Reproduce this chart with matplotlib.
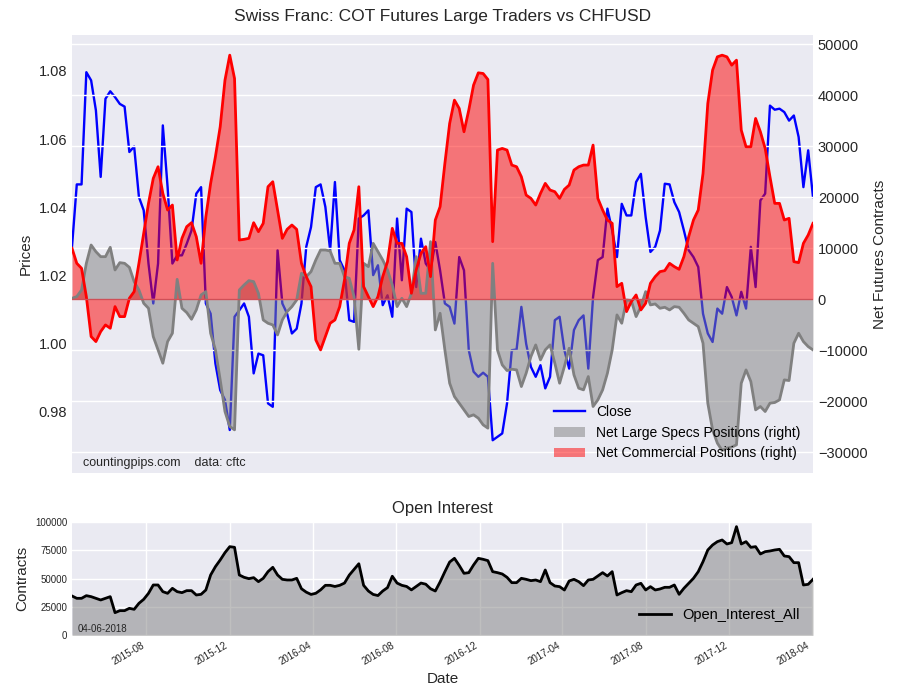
import matplotlib
matplotlib.use("Agg")
import matplotlib.pyplot as plt
import matplotlib.dates as mdates
from matplotlib.ticker import FormatStrFormatter
import pandas as pd

plt.rcParams['font.family'] = ['Liberation Sans', 'DejaVu Sans']

# weekly COT report dates (Tuesdays)
dates = pd.date_range('2015-04-14', periods=156, freq='7D')

close = [
    1.0284, 1.0467, 1.0467, 1.0796, 1.0772, 1.0684, 1.0489, 1.0718, 1.0740, 1.0723,
    1.0703, 1.0695, 1.0562, 1.0578, 1.0430, 1.0391, 1.0235, 1.0118, 1.0235, 1.0640,
    1.0459, 1.0235, 1.0259, 1.0259, 1.0293, 1.0332, 1.0440, 1.0459, 1.0118, 1.0088,
    0.9942, 0.9864, 0.9835, 0.9747, 1.0079, 1.0098, 1.0118, 1.0079, 0.9913, 0.9971,
    0.9966, 0.9825, 0.9815, 1.0274, 1.0118, 1.0088, 1.0030, 1.0044, 1.0118, 1.0284,
    1.0342, 1.0459, 1.0467, 1.0401, 1.0274, 1.0474, 1.0245, 1.0215, 1.0069, 1.0064,
    1.0367, 1.0376, 1.0391, 1.0201, 1.0230, 1.0113, 1.0142, 1.0079, 1.0367, 1.0186,
    1.0396, 1.0386, 1.0166, 1.0308, 1.0235, 1.0215, 1.0298, 1.0215, 1.0118, 1.0108,
    1.0059, 1.0254, 1.0215, 0.9981, 0.9918, 0.9903, 0.9915, 0.9903, 0.9717, 0.9727,
    0.9737, 0.9825, 0.9981, 0.9983, 1.0108, 1.0000, 0.9932, 0.9903, 0.9937, 0.9869,
    0.9903, 1.0069, 1.0079, 0.9981, 0.9927, 1.0040, 1.0069, 1.0083, 0.9927, 1.0137,
    1.0245, 1.0254, 1.0396, 1.0332, 1.0254, 1.0410, 1.0376, 1.0376, 1.0474, 1.0498,
    1.0371, 1.0269, 1.0284, 1.0332, 1.0469, 1.0467, 1.0415, 1.0386, 1.0332, 1.0274,
    1.0254, 1.0225, 1.0088, 1.0030, 1.0005, 1.0103, 1.0088, 1.0166, 1.0137, 1.0083,
    1.0152, 1.0103, 1.0284, 1.0166, 1.0420, 1.0440, 1.0698, 1.0686, 1.0689, 1.0679,
    1.0654, 1.0669, 1.0606, 1.0459, 1.0567, 1.0430,
]

net_specs = [
    196, 522, 1828, 7052, 10644, 9338, 8358, 8358, 10187, 5746,
    7183, 7052, 6269, 3461, 1828, -784, -1763, -7314, -9926, -12538,
    -8293, -6661, 3918, -1763, -2612, -3918, -2090, 849, 1502, -6661,
    -9926, -15803, -22006, -24945, -25598, 1828, 2808, 3657, 3461, 1175,
    -4049, -4702, -5028, -6987, -4049, -2416, -1437, -131, 5093, 4440,
    5420, 7705, 9664, 9664, 9469, 7052, 7052, 4440, 4114, 522,
    -9795, 7052, 6399, 10970, 9338, 7705, 5746, 2808, -1437, 196,
    -1437, 1175, 8358, 1175, 1175, 11297, -6008, -2743, -9926, -16456,
    -19068, -20374, -21680, -22986, -22659, -23312, -24618, -25271, 7052, -9926,
    -12864, -13974, -13713, -13844, -17109, -14497, -11232, -8946, -11885, -9926,
    -8946, -12538, -16456, -13191, -9599, -14823, -17435, -17762, -15150, -21027,
    -19721, -17762, -14497, -9926, -3069, -4702, -131, -261, -3396, -1437,
    1502, -1110, -914, -1763, -1567, -2090, -1437, -1567, -2743, -4049,
    -4702, -5355, -8620, -20374, -25598, -28210, -29646, -29189, -28993, -28536,
    -16456, -13844, -16129, -21680, -21027, -22006, -20374, -20243, -19721, -15803,
    -15933, -8620, -6661, -8293, -9273, -9926,
]

net_commercial = [
    10000, 7052, 6073, 522, -7314, -8293, -6334, -5028, -5681, -1437,
    -3396, -3396, 196, 1502, 7052, 12929, 18806, 23704, 25989, 20765,
    17500, 18480, 7705, 11950, 14235, 15019, 12276, 7052, 16194, 22724,
    27948, 33825, 42967, 47865, 43294, 11623, 11754, 11950, 15019, 13256,
    14888, 22071, 23051, 17500, 11950, 13713, 14562, 13713, 7052, 4440,
    2481, -7967, -9926, -7314, -4702, -4049, -1437, 3787, 10970, 13582,
    22071, 2481, 522, -1437, 522, 4440, 7379, 13909, 10970, 10970,
    8358, 1175, 5746, 9011, 10317, 4440, 15541, 18153, 26642, 34478,
    39049, 37417, 32846, 37090, 41988, 44404, 44273, 43098, 11297, 29254,
    29581, 29254, 26316, 25989, 24030, 20439, 19786, 18480, 20765, 22724,
    21418, 21092, 19786, 21549, 22398, 25336, 25989, 26316, 26316, 30234,
    19786, 17500, 15541, 14888, 2481, 3134, -2416, -457, 849, -2090,
    -784, 3134, 4440, 5420, 5616, 7052, 6399, 5877, 8358, 12276,
    15541, 17500, 24683, 38396, 44926, 47538, 47865, 47538, 45906, 46885,
    33172, 29907, 29907, 35458, 32846, 29581, 24030, 18806, 18806, 15541,
    15868, 7379, 7183, 10970, 12603, 14888,
]

open_interest = [
    34621, 32567, 32567, 34915, 34034, 32567, 31100, 32567, 34034, 19951,
    21712, 21712, 23765, 22885, 28166, 31687, 36968, 44303, 44303, 38435,
    36968, 41369, 38435, 37555, 39316, 39316, 35501, 36088, 39902, 53105,
    60440, 66308, 72763, 78044, 77458, 53105, 51052, 49878, 50758, 47237,
    50171, 56039, 59853, 53105, 49291, 48704, 48704, 50171, 41000, 38000,
    36000, 37000, 40000, 44000, 44000, 43000, 44000, 46000, 53000, 58000,
    63000, 44000, 39000, 36000, 35000, 39000, 42000, 52000, 46000, 44000,
    43000, 40000, 43000, 46000, 45000, 41000, 39000, 47000, 56000, 64500,
    67775, 61500, 54572, 55159, 61900, 67775, 66900, 65722, 56039, 55159,
    53986, 51052, 46357, 46357, 50171, 49291, 48118, 48704, 47237, 57506,
    46357, 43423, 42836, 39902, 47824, 49291, 47237, 43717, 48704, 49291,
    52225, 55159, 52225, 56039, 35501, 37555, 39316, 38435, 44303, 45770,
    39902, 42836, 39902, 40783, 42250, 42250, 44303, 36088, 41369, 45770,
    50171, 56039, 64841, 75110, 79511, 82445, 83912, 80392, 81565, 95648,
    80392, 82445, 77458, 78044, 71590, 73643, 74230, 75110, 75697, 69829,
    69242, 63961, 63961, 44303, 44890, 49291,
]

bg = '#EAEAF2'
txt = '#262626'

fig = plt.figure(figsize=(9, 7), dpi=100)
ax1 = fig.add_axes([0.08, 0.3243, 0.8233, 0.6257])
ax2 = ax1.twinx()
ax3 = fig.add_axes([0.08, 0.0924, 0.8233, 0.1623])

# --- top chart: price vs net positions
ax1.set_facecolor(bg)
ax1.plot(dates, close, color='blue', lw=1.7, label='Close')
ax1.set_ylim(0.9621, 1.0905)
ax1.yaxis.set_major_formatter(FormatStrFormatter('%.2f'))
ax1.set_ylabel('Prices', fontsize=11, color=txt)
ax1.grid(False)

ax2.patch.set_visible(False)
ax2.fill_between(dates, net_specs, 0, color='gray', alpha=0.5, lw=0,
                 label='Net Large Specs Positions (right)')
ax2.plot(dates, net_specs, color='gray', lw=2)
ax2.fill_between(dates, net_commercial, 0, color='red', alpha=0.5, lw=0,
                 label='Net Commercial Positions (right)')
ax2.plot(dates, net_commercial, color='red', lw=2)
ax2.axhline(0, color='#cf4f57', lw=1)
ax2.set_ylim(-34060, 51820)
ax2.set_yticks(range(-30000, 50001, 10000))
ax2.grid(True, axis='y', color='white', lw=1)
ax2.set_axisbelow(True)
ax2.set_ylabel('Net Futures Contracts', fontsize=11, color=txt)
ax2.set_title('Swiss Franc: COT Futures Large Traders vs CHFUSD',
              fontsize=12.5, color=txt, pad=10)

h1, l1 = ax1.get_legend_handles_labels()
h2, l2 = ax2.get_legend_handles_labels()
ax2.legend(h1 + h2, l1 + l2, loc='lower right', frameon=False, fontsize=10,
           borderaxespad=0.5, handlelength=2.2)
ax1.text(0.015, 0.015, 'countingpips.com    data: cftc', transform=ax1.transAxes,
         fontsize=9, color=txt)

for ax in (ax1, ax2):
    for s in ax.spines.values():
        s.set_visible(False)
    ax.tick_params(length=0, labelsize=10.5, colors=txt)
ax1.tick_params(axis='x', labelbottom=False)
ax1.set_xlim(dates[0], dates[-1])

# --- bottom chart: open interest
ax3.set_facecolor(bg)
ax3.fill_between(dates, open_interest, 0, color='gray', alpha=0.5, lw=0)
ax3.plot(dates, open_interest, color='black', lw=2, label='Open_Interest_All')
ax3.set_xlim(dates[0], dates[-1])
ax3.set_ylim(0, 100000)
ax3.set_yticks([0, 25000, 50000, 75000, 100000])
ax3.xaxis.set_major_locator(mdates.MonthLocator(bymonth=(4, 8, 12)))
ax3.xaxis.set_major_formatter(mdates.DateFormatter('%Y-%m'))
ax3.grid(True, color='white', lw=1)
ax3.set_axisbelow(True)
for s in ax3.spines.values():
    s.set_visible(False)
ax3.tick_params(length=0, labelsize=7, colors=txt)
for lab in ax3.get_xticklabels():
    lab.set_rotation(30)
    lab.set_ha('right')
ax3.set_title('Open Interest', fontsize=12, color=txt)
ax3.set_ylabel('Contracts', fontsize=11, color=txt)
ax3.set_xlabel('Date', fontsize=11, color=txt)
ax3.legend(loc='lower right', frameon=False, fontsize=10.5, handlelength=2.2)
ax3.text(0.008, 0.03, '04-06-2018', transform=ax3.transAxes, fontsize=7, color=txt)

fig.savefig('out.png', dpi=100)
